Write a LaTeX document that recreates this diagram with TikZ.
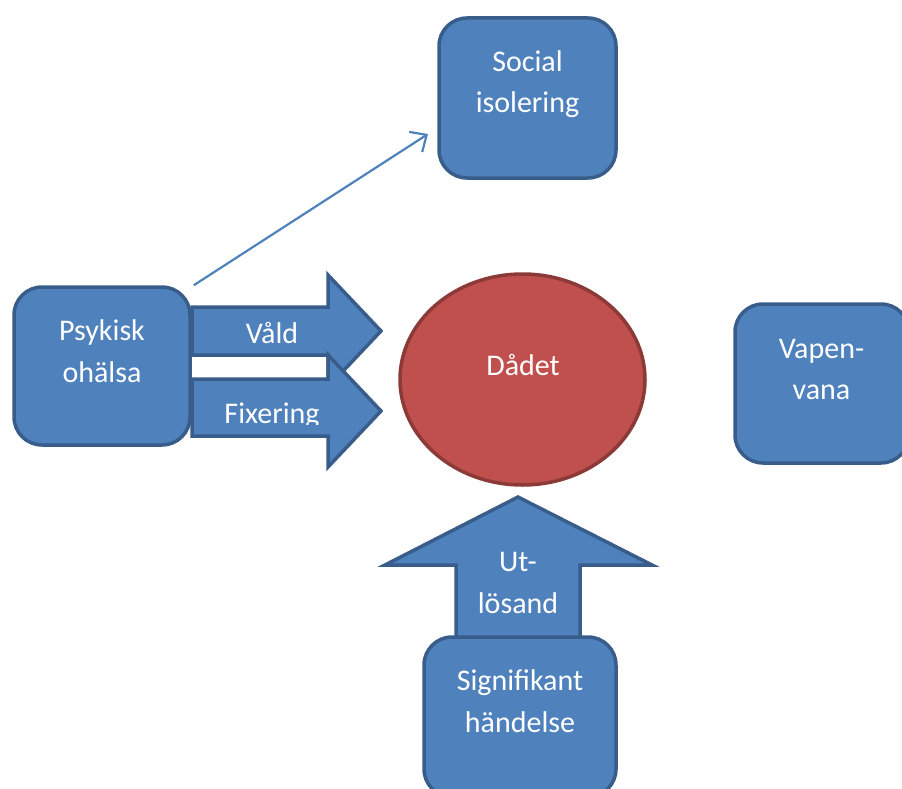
\documentclass[tikz,border=0pt]{standalone}
\usepackage{fontspec}
\setmainfont{Carlito}
\usetikzlibrary{arrows.meta,shapes.geometric}
\definecolor{bfill}{HTML}{4F81BD}
\definecolor{bline}{HTML}{385D8A}
\definecolor{rfill}{HTML}{C0504D}
\definecolor{rline}{HTML}{8C3A38}
\tikzset{
  box/.style={draw=bline, fill=bfill, line width=3.5pt, rounded corners=28pt, inner sep=0pt},
  blkarrow/.style={draw=bline, fill=bfill, line width=3.5pt, line join=miter},
  lbl/.style={anchor=base, inner sep=0pt, text=white, font=\fontsize{30}{36}\selectfont},
  thinarrow/.style={draw=bfill, line width=2.2pt, -{Straight Barb[length=13pt,width=24pt,line width=2.2pt]}}
}
\begin{document}
\begin{tikzpicture}[x=1pt,y=-1pt]
\useasboundingbox (0,0) rectangle (902,789);
\clip (0,0) rectangle (902,789);
% central ellipse
\node[draw=rline, fill=rfill, line width=3.5pt, ellipse, minimum width=245pt, minimum height=211pt, inner sep=0pt] (dad) at (522.5,379.5) {};
\node[lbl] (dadt) at (523,375) {Dådet};
% Vald arrow
\path[blkarrow] (192,307) -- (328,307) -- (328,275) -- (381,331) -- (328,387) -- (328,355) -- (192,355) -- cycle;
\node[lbl] (vald) at (272,343) {Våld};
% Fixering arrow
\path[blkarrow] (192,379) -- (328,379) -- (328,355) -- (381,411) -- (328,467) -- (328,436) -- (192,436) -- cycle;
\begin{scope}
\clip (190,370) rectangle (330,424);
\node[lbl] (fix) at (272,423) {Fixering};
\end{scope}
% Ut-losand arrow
\path[blkarrow] (456,660) -- (456,565) -- (385,565) -- (518,497) -- (652,565) -- (580,565) -- (580,660) -- cycle;
\node[lbl] (ut1) at (518,571) {Ut-};
\node[lbl] (ut2) at (518,613) {lösand};
% boxes
\node[box, minimum width=177pt, minimum height=160pt] (soc) at (527.5,98) {};
\node[lbl] (soc1) at (527.5,72) {Social};
\node[lbl] (soc2) at (527.5,113) {isolering};
\node[box, minimum width=176pt, minimum height=158pt] (psy) at (102,366) {};
\node[lbl] (psy1) at (102,340) {Psykisk};
\node[lbl] (psy2) at (102,382) {ohälsa};
\node[box, minimum width=174pt, minimum height=159pt] (vap) at (822,383.5) {};
\node[lbl] (vap1) at (821.5,358) {Vapen-};
\node[lbl] (vap2) at (821.5,399) {vana};
\node[box, minimum width=192pt, minimum height=160pt] (sig) at (520,717) {};
\node[lbl] (sig1) at (520,690) {Signifikant};
\node[lbl] (sig2) at (520,732) {händelse};
% thin connector
\coordinate (socin) at (428,134);
\draw[thinarrow] ([xshift=2pt]psy.north east) -- (socin);
\end{tikzpicture}
\end{document}
